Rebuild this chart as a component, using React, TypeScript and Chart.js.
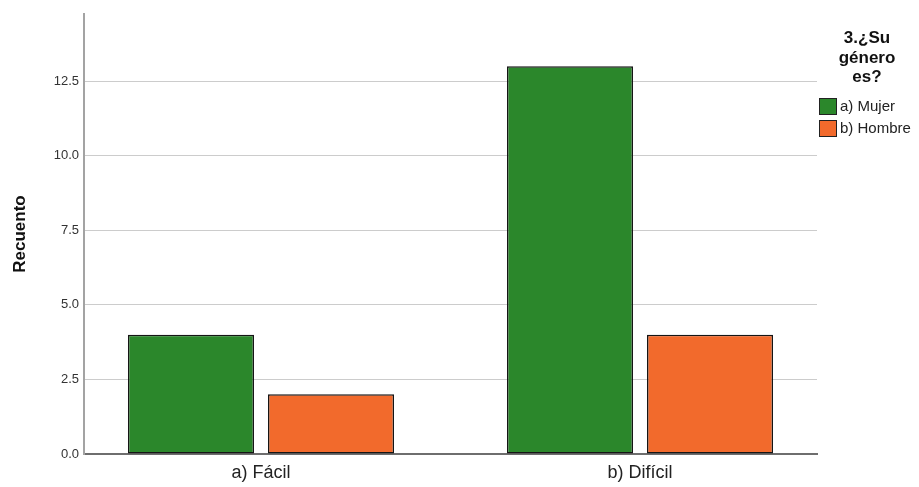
import React, { useEffect, useRef } from "react";
import { Chart, registerables } from "chart.js";

Chart.register(...registerables);

const CATEGORIES = ["a) Fácil", "b) Difícil"];
const SERIES_NAMES = ["a) Mujer", "b) Hombre"];
const MUJER = [4, 13];
const HOMBRE = [2, 4];
const Y_TICKS = [0, 2.5, 5, 7.5, 10, 12.5];
const LEGEND_TITLE = ["3.¿Su", "género", "es?"];
const Y_TITLE = "Recuento";
const COLORS = ["#2b872b", "#f26a2c"];

const FONT = "'Liberation Sans', Arial, sans-serif";

const legendPlugin = {
  id: "customLegend",
  afterDraw(chart: any) {
    const ctx = chart.ctx as CanvasRenderingContext2D;
    const area = chart.chartArea;
    const cx = area.right + 50;
    ctx.save();
    ctx.fillStyle = "#111";
    ctx.font = `bold 17px ${FONT}`;
    ctx.textAlign = "center";
    ctx.textBaseline = "alphabetic";
    LEGEND_TITLE.forEach((line, i) => {
      ctx.fillText(line, cx, area.top + 29 + i * 19.5);
    });
    ctx.font = `15px ${FONT}`;
    ctx.textAlign = "left";
    ctx.textBaseline = "middle";
    SERIES_NAMES.forEach((name, i) => {
      const bx = area.right + 2.5;
      const by = area.top + 84.5 + i * 22;
      ctx.fillStyle = COLORS[i];
      ctx.fillRect(bx, by, 17, 16);
      ctx.strokeStyle = "#222";
      ctx.lineWidth = 1;
      ctx.strokeRect(bx, by, 17, 16);
      ctx.fillStyle = "#222";
      ctx.fillText(name, area.right + 23, by + 8.5);
    });
    ctx.restore();
  },
};

export default function App() {
  const ref = useRef<HTMLCanvasElement | null>(null);

  useEffect(() => {
    if (!ref.current) return;
    const series = [MUJER, HOMBRE];
    const chart = new Chart(ref.current, {
      type: "bar",
      data: {
        datasets: series.map((vals, s) => ({
          label: SERIES_NAMES[s],
          data: vals.map((v, i) => ({ x: i, y: v })),
          backgroundColor: COLORS[s],
          borderColor: "#151515",
          borderWidth: 1.5,
          borderSkipped: false,
          categoryPercentage: 0.739,
          barPercentage: 0.9,
        })),
      },
      options: {
        responsive: false,
        animation: false,
        layout: { padding: { top: 14, right: 102, left: 0, bottom: 0 } },
        plugins: {
          legend: { display: false },
          tooltip: { enabled: false },
        },
        scales: {
          x: {
            type: "linear",
            offset: false,
            min: -0.467,
            max: 1.467,
            afterBuildTicks: (scale: any) => {
              scale.ticks = CATEGORIES.map((_, i) => ({ value: i }));
            },
            afterFit: (scale: any) => {
              scale.height = 33;
            },
            grid: { display: false, drawTicks: false, offset: false },
            border: { display: true, color: "#6e6e6e", width: 2 },
            ticks: {
              autoSkip: false,
              maxRotation: 0,
              padding: 8,
              color: "#222",
              font: { family: FONT, size: 18 },
              callback: (v: any) => CATEGORIES[Math.round(Number(v))] ?? "",
            },
          },
          y: {
            type: "linear",
            min: 0,
            max: 14.75,
            afterBuildTicks: (scale: any) => {
              scale.ticks = Y_TICKS.map((v) => ({ value: v }));
            },
            afterFit: (scale: any) => {
              scale.width = 84;
            },
            grid: { color: "#cccccc", lineWidth: 1, drawTicks: false },
            border: { display: true, color: "#a3a3a3", width: 2 },
            ticks: {
              padding: 5,
              color: "#333",
              font: { family: FONT, size: 13 },
              callback: (v: any) => Number(v).toFixed(1),
            },
            title: {
              display: true,
              text: Y_TITLE,
              color: "#111",
              font: { family: FONT, size: 17, weight: "bold" },
              padding: { top: 10, bottom: 0 },
            },
          },
        },
      },
      plugins: [legendPlugin],
    } as any);
    return () => chart.destroy();
  }, []);

  return (
    <div style={{ position: "absolute", left: 0, top: 0, width: 919, height: 487, background: "#fff" }}>
      <canvas ref={ref} width={919} height={487} style={{ display: "block" }} />
    </div>
  );
}
